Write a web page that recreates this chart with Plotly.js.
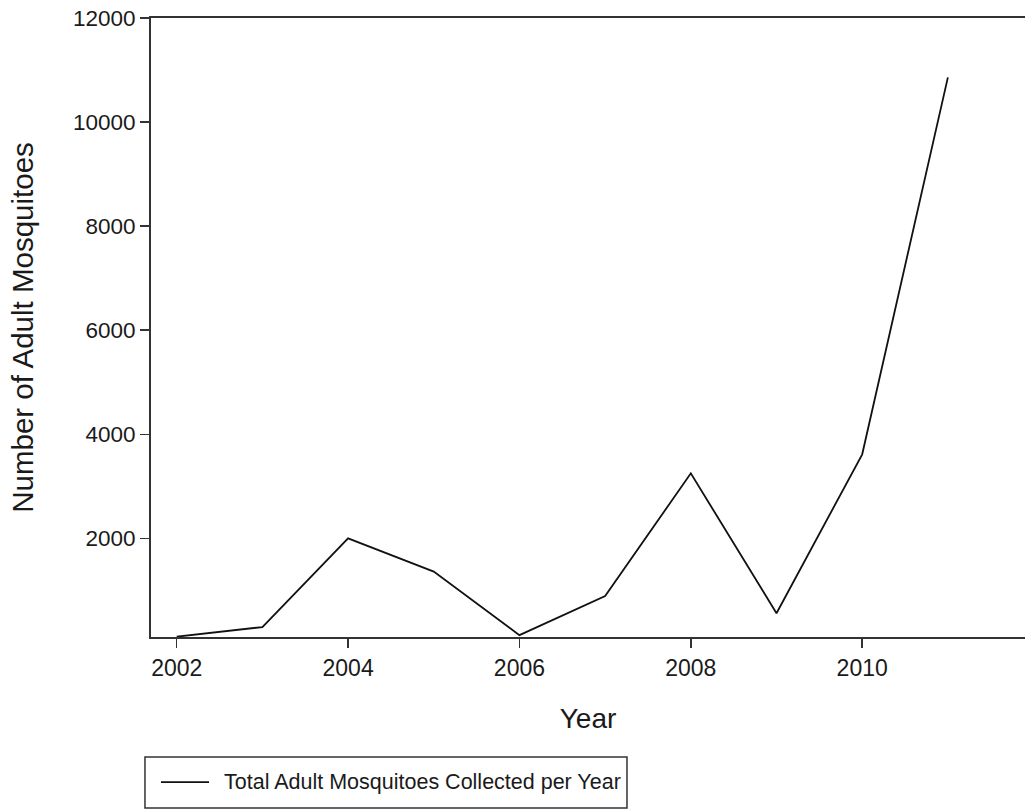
<!DOCTYPE html>
<html>
<head>
<meta charset="utf-8">
<script src="https://cdn.plot.ly/plotly-3.0.1.min.js"></script>
<style>
  html, body { margin: 0; padding: 0; background: #ffffff; }
  #chart { width: 1025px; height: 810px; }
</style>
</head>
<body>
<div id="chart"></div>
<script>
// Yearly totals of adult mosquitoes collected
const years = [2002, 2003, 2004, 2005, 2006, 2007, 2008, 2009, 2010, 2011];
const totals = [110, 295, 2000, 1360, 140, 890, 3250, 560, 3615, 10860];
const xTicks = [2002, 2004, 2006, 2008, 2010];
const yTicks = [2000, 4000, 6000, 8000, 10000, 12000];
const seriesName = "Total Adult Mosquitoes Collected per Year";

const FONT = "Liberation Sans, Arial, Helvetica, sans-serif";
const INK = "#1a1a1a";
const AXIS = "#333333";
const LINE = "#111111";

const trace = {
  x: years,
  y: totals,
  type: "scatter",
  mode: "lines",
  name: seriesName,
  line: { color: LINE, width: 1.8 }
};

// Boxed key below the axes: frame, sample stroke and label
const keyShapes = [
  {
    type: "rect", xref: "paper", yref: "paper",
    x0: -0.0069, x1: 0.5446, y0: -0.2763, y1: -0.1939,
    line: { color: AXIS, width: 1.5 }, fillcolor: "#ffffff"
  },
  {
    type: "line", xref: "paper", yref: "paper",
    x0: 0.0114, x1: 0.0664, y0: -0.2343, y1: -0.2343,
    line: { color: LINE, width: 1.8 }
  }
];
const keyLabel = {
  xref: "paper", yref: "paper",
  x: 0.0812, y: -0.2343, xanchor: "left", yanchor: "middle",
  text: seriesName, showarrow: false,
  font: { family: FONT, size: 21.5, color: INK }
};

const layout = {
  width: 1025,
  height: 810,
  paper_bgcolor: "#ffffff",
  plot_bgcolor: "#ffffff",
  margin: { l: 151, r: 0, t: 18, b: 173 },
  font: { family: FONT, color: INK },
  showlegend: false,
  shapes: keyShapes,
  annotations: [keyLabel],
  xaxis: {
    range: [2001.7, 2011.9],
    tickvals: xTicks,
    ticktext: xTicks.map(String),
    ticks: "outside",
    ticklen: 9,
    tickwidth: 1.5,
    tickcolor: AXIS,
    showline: true,
    linecolor: AXIS,
    linewidth: 2,
    mirror: true,
    showgrid: false,
    zeroline: false,
    tickfont: { family: FONT, size: 23, color: INK },
    title: { text: "Year", font: { family: FONT, size: 28, color: INK }, standoff: 29 }
  },
  yaxis: {
    range: [104, 12000.5],
    tickvals: yTicks,
    ticktext: yTicks.map(String),
    ticks: "outside",
    ticklen: 9,
    tickwidth: 1.5,
    tickcolor: AXIS,
    showline: true,
    linecolor: AXIS,
    linewidth: 2,
    showgrid: false,
    zeroline: false,
    tickfont: { family: FONT, size: 22.5, color: INK },
    title: { text: "Number of Adult Mosquitoes", font: { family: FONT, size: 29.5, color: INK }, standoff: 31 }
  }
};

Plotly.newPlot("chart", [trace], layout, { staticPlot: true, displayModeBar: false });
</script>
</body>
</html>
